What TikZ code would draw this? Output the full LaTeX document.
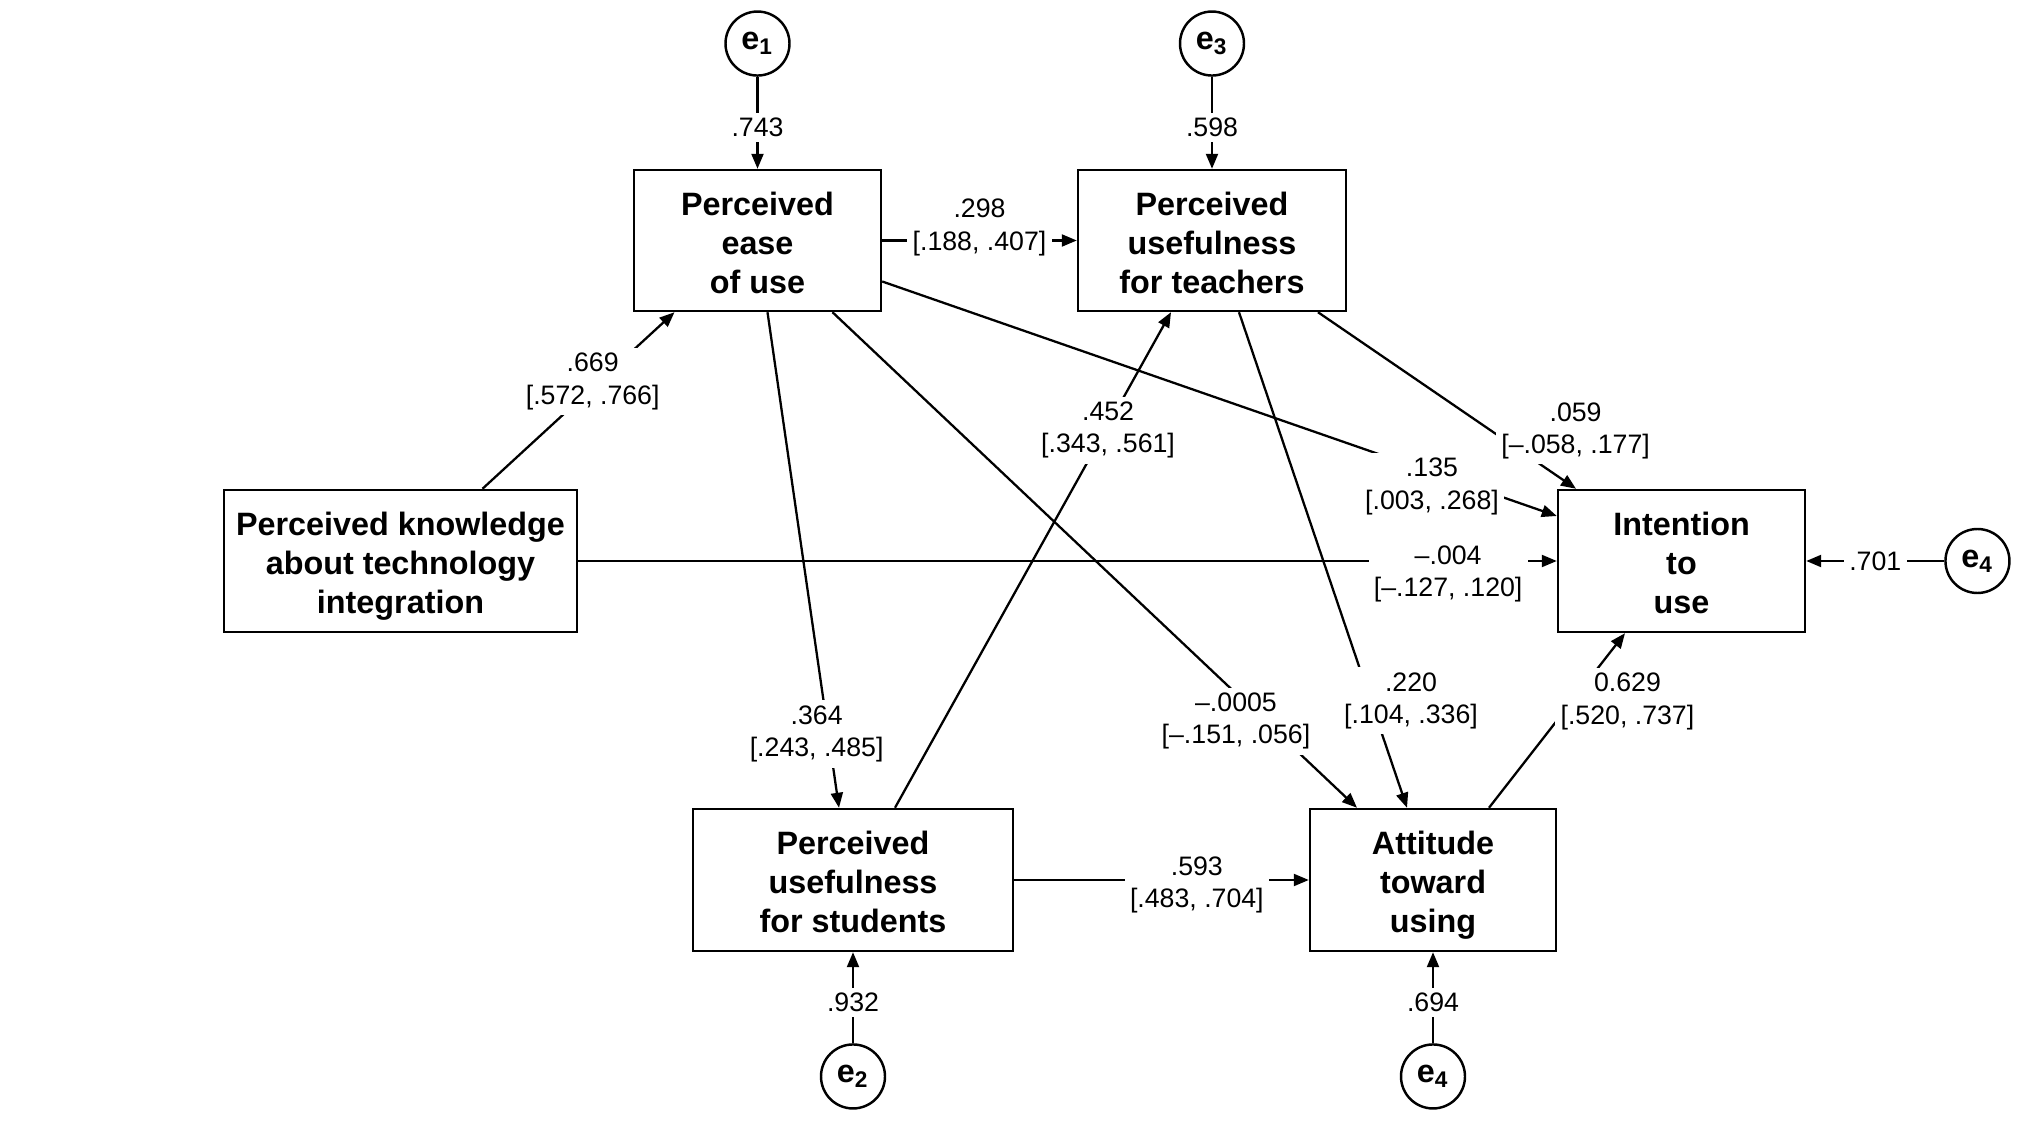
\documentclass[tikz,border=0pt]{standalone}
\usepackage{fontspec}
\setmainfont{Liberation Sans}
\usetikzlibrary{arrows.meta, positioning}
\tikzset{
  construct/.style={rectangle, draw=black, line width=0.7pt, align=center,
    inner sep=0pt, font=\fontsize{9.2}{11.1}\selectfont\bfseries,
    text height=30.1pt, text depth=0pt},
  errterm/.style={circle, draw=black, line width=0.7pt, minimum size=0.64cm,
    inner sep=0pt, font=\fontsize{9.2}{11.1}\selectfont\bfseries},
  coef/.style={fill=white, inner sep=1.5pt, align=center,
    font=\fontsize{7.6}{9.2}\selectfont},
  arrow/.style={-{Triangle[length=1.5mm, width=1.2mm]}, line width=0.65pt}
}

\begin{document}
\begin{tikzpicture}
  \useasboundingbox (0,0) rectangle (20.34,-11.32);

  % Constructs
  \node[construct, minimum width=3.53cm, minimum height=1.42cm] (pkt) at (4.005,-5.61) {Perceived knowledge\\about technology\\integration};
  \node[construct, minimum width=2.47cm, minimum height=1.41cm] (peou) at (7.575,-2.405) {Perceived\\ease\\of use};
  \node[construct, minimum width=2.68cm, minimum height=1.41cm] (put) at (12.12,-2.405) {Perceived\\usefulness\\for teachers};
  \node[construct, minimum width=3.20cm, minimum height=1.42cm] (pus) at (8.53,-8.80) {Perceived\\usefulness\\for students};
  \node[construct, minimum width=2.46cm, minimum height=1.42cm] (atu) at (14.33,-8.80) {Attitude\\toward\\using};
  \node[construct, minimum width=2.47cm, minimum height=1.42cm] (itu) at (16.815,-5.61) {Intention\\to\\use};

  % Error terms
  \node[errterm, above=0.92cm of peou] (e1) {e\textsubscript{1}};
  \node[errterm, above=0.92cm of put] (e3) {e\textsubscript{3}};
  \node[errterm, below=0.91cm of pus] (e2) {e\textsubscript{2}};
  \node[errterm, below=0.91cm of atu] (e4b) {e\textsubscript{4}};
  \node[errterm, right=1.38cm of itu] (e4r) {e\textsubscript{4}};

  % Residual paths
  \draw[arrow] (e1) -- node[coef, pos=0.55] {.743} (peou);
  \draw[arrow] (e3) -- node[coef, pos=0.55] {.598} (put);
  \draw[arrow] (e2) -- node[coef, pos=0.45] {.932} (pus);
  \draw[arrow] (e4b) -- node[coef, pos=0.45] {.694} (atu);
  \draw[arrow] (e4r) -- node[coef, pos=0.5] {.701} (itu);

  % Structural paths
  \draw[arrow] (peou) -- node[coef, yshift=0.13cm] {.298\\{}[.188, .407]} (put);
  \draw[arrow] ([xshift=0.82cm]pkt.north) -- node[coef, pos=0.574, yshift=0.06cm] {.669\\{}[.572, .766]} ([xshift=-0.83cm]peou.south);
  \draw[arrow] (pkt.east) -- node[coef, pos=0.889, yshift=-0.13cm] {--.004\\{}[--.127, .120]} (itu.west);
  \draw[arrow] ([yshift=-0.41cm]peou.east) -- node[coef, pos=0.815, yshift=-0.14cm] {.135\\{}[.003, .268]} ([yshift=0.45cm]itu.west);
  \draw[arrow] ([xshift=1.06cm]put.south) -- node[coef, pos=0.886, xshift=0.29cm, yshift=0.38cm] {.059\\{}[--.058, .177]} ([xshift=-1.055cm]itu.north);
  \draw[arrow] ([xshift=0.10cm]peou.south) -- node[coef, pos=0.841, xshift=-0.11cm, yshift=-0.05cm] {.364\\{}[.243, .485]} ([xshift=-0.14cm]pus.north);
  \draw[arrow] ([xshift=0.75cm]peou.south) -- node[coef, pos=0.815, xshift=-0.24cm, yshift=-0.05cm] {--.0005\\{}[--.151, .056]} ([xshift=-0.76cm]atu.north);
  \draw[arrow] ([xshift=0.42cm]pus.north) -- node[coef, pos=0.772, yshift=-0.05cm] {.452\\{}[.343, .561]} ([xshift=-0.41cm]put.south);
  \draw[arrow] ([xshift=0.27cm]put.south) -- node[coef, pos=0.774, xshift=0.42cm, yshift=-0.05cm] {.220\\{}[.104, .336]} ([xshift=-0.26cm]atu.north);
  \draw[arrow] ([xshift=0.56cm]atu.north) -- node[coef, pos=0.643, xshift=0.51cm, yshift=-0.06cm] {0.629\\{}[.520, .737]} ([xshift=-0.565cm]itu.south);
  \draw[arrow] (pus.east) -- node[coef, pos=0.62, yshift=-0.05cm] {.593\\{}[.483, .704]} (atu.west);
\end{tikzpicture}
\end{document}
